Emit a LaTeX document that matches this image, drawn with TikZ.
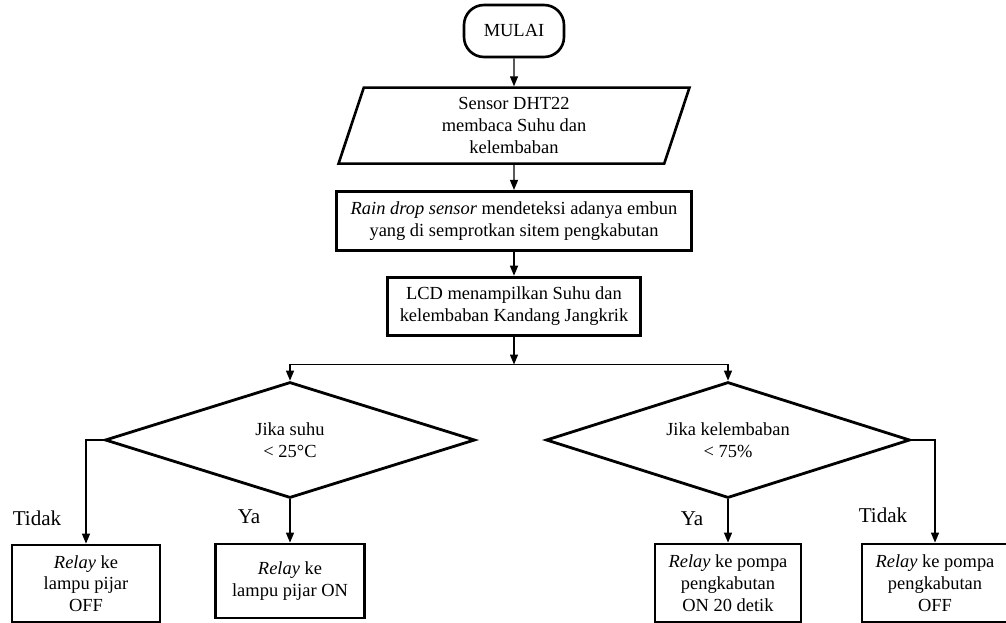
\documentclass[tikz,border=0pt]{standalone}
\usepackage{fontspec}
\setmainfont{Liberation Serif}
\usetikzlibrary{arrows.meta, positioning, shapes.geometric}

\tikzset{
    flowline/.style={line width=0.75pt, -{Triangle[length=2mm,width=1.6mm]}},
    terminal/.style={draw, line width=1.5pt, rounded corners=0.4cm, minimum width=2cm, minimum height=1.04cm},
    inputbox/.style={draw, trapezium, trapezium left angle=67, trapezium right angle=113, trapezium stretches body,
        line width=1.5pt, align=center, minimum width=7.02cm, minimum height=1.52cm, inner sep=1pt},
    prosesbox/.style={draw, rectangle, line width=1.6pt, align=center, inner sep=1pt},
    keputusan/.style={draw, diamond, aspect=3.2, line width=1.6pt, align=center, inner sep=0pt, minimum height=2.32cm},
    cabanglabel/.style={font=\fontsize{12}{14}\selectfont}
}

\begin{document}
\begin{tikzpicture}[x=0.02cm, y=-0.02cm, font=\fontsize{10.5}{12.4}\selectfont]
    \useasboundingbox (0,0) rectangle (1006,622);
    \clip (0,0) rectangle (1006,622);

    % Start
    \node[terminal] (mulai) at (514,31) {MULAI};

    % Input and process chain
    \node[inputbox, below=0.56cm of mulai] (sensor) {Sensor DHT22\\membaca Suhu dan\\kelembaban};
    \node[prosesbox, below=0.5cm of sensor, minimum width=7.1cm, minimum height=1.18cm] (rain)
        {\textit{Rain drop sensor} mendeteksi adanya embun\\yang di semprotkan sitem pengkabutan};
    \node[prosesbox, below=0.48cm of rain, minimum width=5.06cm, minimum height=1.16cm] (lcd)
        {LCD menampilkan Suhu dan\\kelembaban Kandang Jangkrik};
    \coordinate[below=0.56cm of lcd.south] (cabang);

    % Decisions
    \node[keputusan, minimum width=7.4cm] (suhu) at (290,440) {Jika suhu\\< 25°C};
    \node[keputusan, minimum width=7.28cm] (lembab) at (728,440) {Jika kelembaban\\< 75\%};

    % Outputs
    \node[prosesbox, minimum width=2.96cm, minimum height=1.54cm] (lampuoff) at (86,583.5)
        {\textit{Relay} ke\\lampu pijar\\OFF};
    \node[prosesbox, minimum width=2.98cm, minimum height=1.48cm] (lampuon) at (290,581)
        {\textit{Relay} ke\\lampu pijar ON};
    \node[prosesbox, minimum width=2.92cm, minimum height=1.56cm] (pompaon) at (728,583)
        {\textit{Relay} ke pompa\\pengkabutan\\ON 20 detik};
    \node[prosesbox, minimum width=2.92cm, minimum height=1.56cm] (pompaoff) at (935,583)
        {\textit{Relay} ke pompa\\pengkabutan\\OFF};

    % Branch labels
    \node[cabanglabel] (tidakkiri) at (37,518) {Tidak};
    \node[cabanglabel] (yakiri) at (249,517) {Ya};
    \node[cabanglabel] (yakanan) at (692,519) {Ya};
    \node[cabanglabel] (tidakkanan) at (883,515) {Tidak};

    % Connectors
    \draw[flowline] (mulai) -- (sensor);
    \draw[flowline] (sensor) -- (rain);
    \draw[flowline] (rain) -- (lcd);
    \draw[flowline] (lcd) -- (cabang);
    \draw[flowline] (cabang) -| (suhu.north);
    \draw[flowline] (cabang) -| (lembab.north);
    \draw[flowline] (suhu.west) -| (lampuoff.north);
    \draw[flowline] (suhu.south) -- (lampuon.north);
    \draw[flowline] (lembab.south) -- (pompaon.north);
    \draw[flowline] (lembab.east) -| (pompaoff.north);
\end{tikzpicture}
\end{document}
